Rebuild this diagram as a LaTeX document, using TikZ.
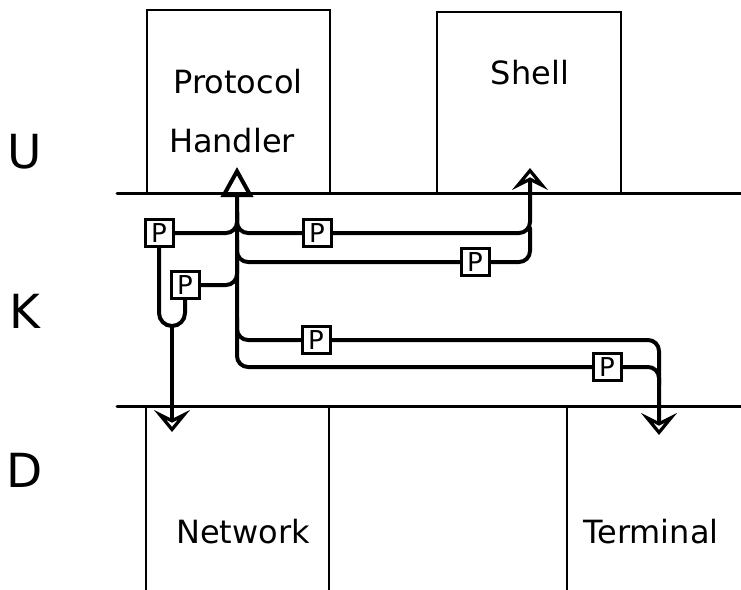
\documentclass[tikz,border=0pt]{standalone}
\usepackage{fontspec}
\setmainfont{DejaVu Sans}
\usetikzlibrary{arrows.meta}

\begin{document}
\begin{tikzpicture}[x=1pt, y=-1pt, line cap=round,
  box/.style={draw, line width=2.6pt, inner sep=0pt},
  pbox/.style={draw, fill=white, line width=3pt, minimum width=28pt, minimum height=27pt, inner sep=0pt, font=\fontsize{26}{26}\selectfont},
  lbl/.style={anchor=base, inner sep=0pt, font=\fontsize{32}{32}\selectfont},
  lay/.style={anchor=base, inner sep=0pt, font=\fontsize{47}{47}\selectfont},
  layer/.style={line width=3pt},
  conn/.style={line width=4pt, rounded corners=11pt},
  up/.style={-{Stealth[open, length=22pt, width=36pt, inset=9pt]}}]
  \useasboundingbox (0,0) rectangle (741,589);
  \clip (0,0) rectangle (741,589);
  % layers
  \draw[layer] (117,193) -- (741,193);
  \draw[layer] (117,406) -- (741,406);
  \node[lay] (lu) at (25,168) {U};
  \node[lay] (lk) at (25,328) {K};
  \node[lay] (ld) at (25,487) {D};
  % processes and devices
  \node[box, minimum width=183pt, minimum height=183pt] (ph) at (238.5,101.5) {};
  \node[box, minimum width=184pt, minimum height=181pt] (sh) at (529,102.5) {};
  \node[box, minimum width=183pt, minimum height=214pt] (nw) at (237.5,513) {};
  \node[box, minimum width=233pt, minimum height=214pt] (tm) at (683.5,513) {};
  \node[lbl] (prot) at (238,93) {Protocol};
  \node[lbl] (hand) at (232,152) {Handler};
  \node[lbl] (shl) at (530,84) {Shell};
  \node[lbl] (net) at (243,543) {Network};
  \node[lbl] (term) at (651,543) {Terminal};
  % end points and joins
  \coordinate (phtip) at (237,167);
  \coordinate (shtip) at (530,168);
  \coordinate (nwtip) at (172,432);
  \coordinate (tmtip) at (659,435);
  \coordinate (ujoin) at (172,326);
  \coordinate (ubase) at (185,326);
  \coordinate (j1) at (237,212);
  \coordinate (j2) at (237,240);
  \coordinate (j3) at (237,262);
  \coordinate (j4) at (237,318);
  \coordinate (s2) at (530,228);
  \coordinate (t2) at (659,385);
  % streams
  \draw[conn, {Triangle[open, length=30pt, width=32pt]}-] (phtip) |- (607,367);
  \draw[conn] (159,233) -| (j1);
  \draw[conn] (317,233) -| (j1);
  \draw[conn] (j2) |- (475,262);
  \draw[conn] (185,285) -| (j3);
  \draw[conn] (j4) |- (316,340);
  \draw[conn, up] (317,233) -| (shtip);
  \draw[conn] (475,262) -| (s2);
  \draw[conn, up] (316,340) -| (tmtip);
  \draw[conn] (607,367) -| (t2);
  \draw[conn, rounded corners=13pt] (159,233) |- (ubase) -- (185,285);
  \draw[conn, up] (ujoin) -- (nwtip);
  % modules
  \node[pbox] (p1) at (159,233) {P};
  \node[pbox] (p2) at (185,285) {P};
  \node[pbox] (p3) at (317,233) {P};
  \node[pbox] (p4) at (475,262) {P};
  \node[pbox] (p5) at (316,340) {P};
  \node[pbox] (p6) at (607,367) {P};
\end{tikzpicture}
\end{document}
